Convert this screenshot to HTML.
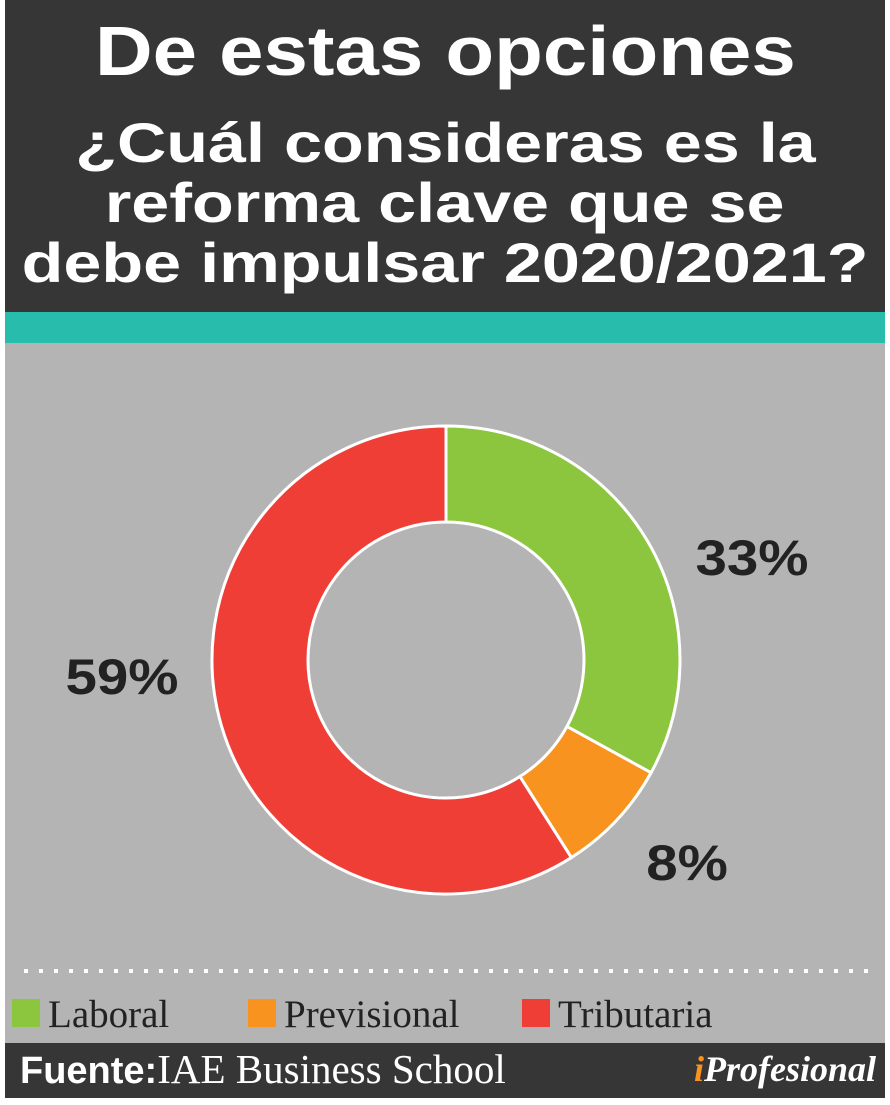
<!DOCTYPE html>
<html><head><meta charset="utf-8"><style>
body{margin:0;width:890px;height:1105px;background:#fff;position:relative;overflow:hidden;font-family:"Liberation Sans",sans-serif}
.a{position:absolute}
.sx{display:inline-block;white-space:nowrap}
</style></head><body>
<div class="a" style="left:5px;top:0;width:880px;height:312px;background:#363636"></div>
<div class="a" style="left:5px;top:12px;width:880px;text-align:center;color:#fff;font-weight:bold;font-size:70px;line-height:78px"><span class="sx" style="transform:scaleX(1.14)">De estas opciones</span></div>
<div class="a" style="left:5px;top:113px;width:880px;text-align:center;color:#fff;font-weight:bold;font-size:56px;line-height:60px"><span class="sx" style="transform:scaleX(1.22)">¿Cuál consideras es la</span><br><span class="sx" style="transform:scaleX(1.22)">reforma clave que se</span><br><span class="sx" style="transform:scaleX(1.22)">debe impulsar 2020/2021?</span></div>
<div class="a" style="left:5px;top:312px;width:880px;height:31px;background:#28bcad"></div>
<div class="a" style="left:5px;top:343px;width:880px;height:700px;background:#b3b4b3"></div>
<svg class="a" style="left:0;top:0" width="890" height="1105">
<g id="g"></g>
<line x1="24" y1="971" x2="870" y2="971" stroke="#fff" stroke-width="4" stroke-dasharray="4 11"/>
</svg>
<div class="a" style="left:12px;top:995px;font-family:'Liberation Serif',serif;font-size:39px;color:#222;line-height:40px">
<span style="position:absolute;left:0;white-space:nowrap"><span style="display:inline-block;width:28px;height:28px;background:#8cc63f;margin-right:8px"></span>Laboral</span>
<span style="position:absolute;left:236px;white-space:nowrap"><span style="display:inline-block;width:28px;height:28px;background:#f7931e;margin-right:8px"></span>Previsional</span>
<span style="position:absolute;left:510px;white-space:nowrap"><span style="display:inline-block;width:28px;height:28px;background:#ef3e36;margin-right:8px"></span>Tributaria</span>
</div>
<div class="a" style="left:5px;top:1043px;width:880px;height:55px;background:#363636"></div>
<div class="a" style="left:20px;top:1046px;color:#fff;font-size:38px;line-height:46px;white-space:nowrap"><b>Fuente:</b><span style="font-family:'Liberation Serif',serif;font-size:41px">IAE Business School</span></div>
<div class="a" style="right:14px;top:1046px;color:#fff;font-family:'Liberation Serif',serif;font-style:italic;font-weight:bold;font-size:36px;line-height:46px"><span style="color:#f7931e">i</span>Profesional</div>
<script>
const categories=["Laboral","Previsional","Tributaria"];
const values=[33,8,59];
const colors=["#8cc63f","#f7931e","#ef3e36"];
const labelText=["33%","8%","59%"];
const cx=446,cy=660,R=234,r=138;
const g=document.getElementById('g');
const total=values.reduce((a,b)=>a+b,0);
const ns="http://www.w3.org/2000/svg";
function pt(a,rad){return [cx+rad*Math.sin(a),cy-rad*Math.cos(a)];}
let acc=0;
const labelPos=[[752,557],[687,862],[122,676]];
values.forEach((v,i)=>{
 const a0=acc/total*2*Math.PI;acc+=v;const a1=acc/total*2*Math.PI;
 const lg=(a1-a0)>Math.PI?1:0;
 const [x0,y0]=pt(a0,R),[x1,y1]=pt(a1,R),[x2,y2]=pt(a1,r),[x3,y3]=pt(a0,r);
 const p=document.createElementNS(ns,'path');
 p.setAttribute('d',`M${x0},${y0}A${R},${R} 0 ${lg} 1 ${x1},${y1}L${x2},${y2}A${r},${r} 0 ${lg} 0 ${x3},${y3}Z`);
 p.setAttribute('fill',colors[i]);p.setAttribute('stroke','#fff');p.setAttribute('stroke-width','3');
 
 
 g.appendChild(p);
 const t=document.createElementNS(ns,'text');
 t.setAttribute('x',0);t.setAttribute('y',0);
 t.setAttribute('transform',`translate(${labelPos[i][0]},${labelPos[i][1]+18}) scale(1.13,1)`);
 t.setAttribute('text-anchor','middle');t.setAttribute('font-size','50');t.setAttribute('font-weight','bold');
 t.setAttribute('font-family','Liberation Sans, sans-serif');t.setAttribute('fill','#222');
 t.textContent=labelText[i];
 
 
 g.appendChild(t);
});
</script>
</body></html>
